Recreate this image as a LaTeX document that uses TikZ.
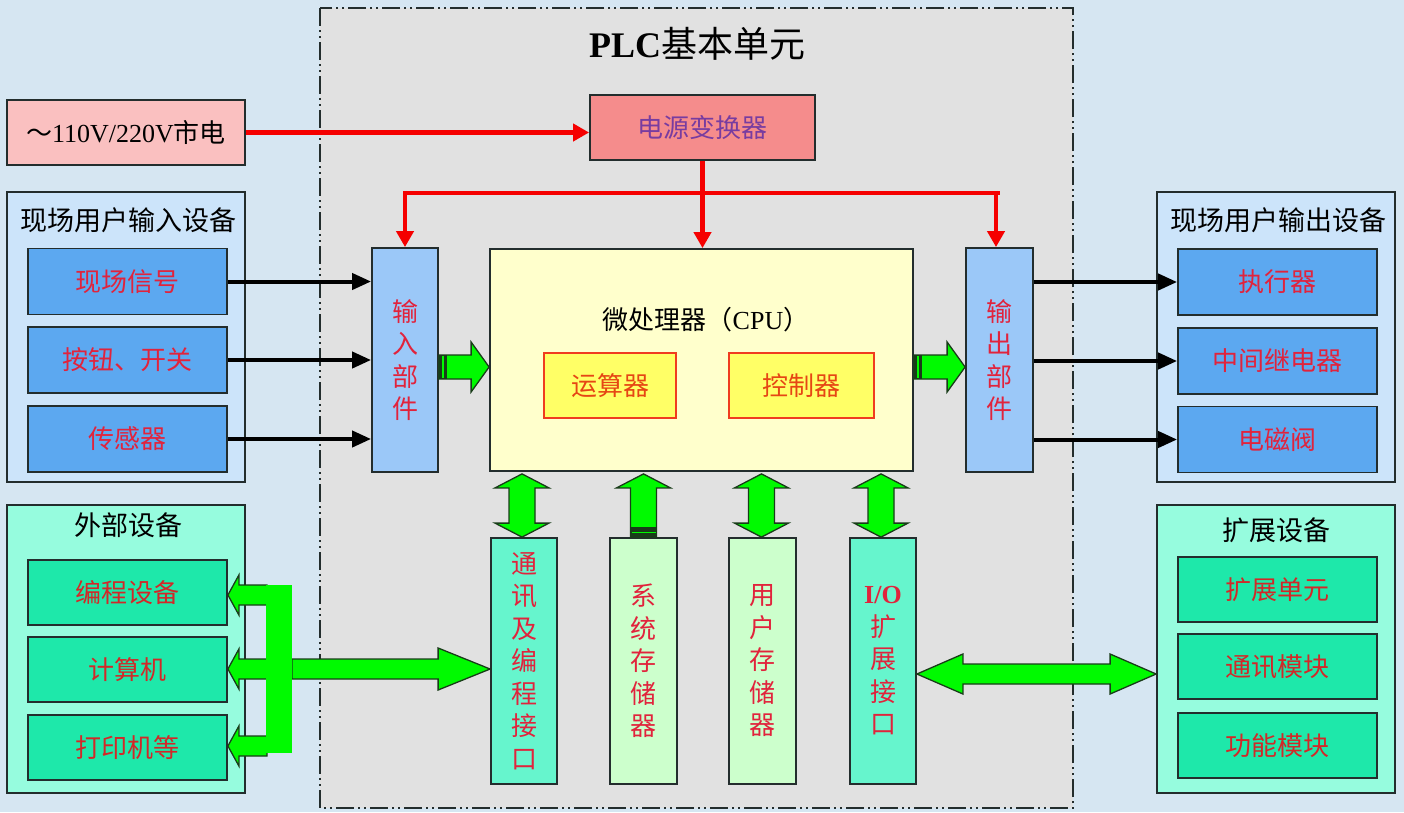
\documentclass[tikz,border=0pt]{standalone}
\usepackage{fontspec}
\setmainfont{Noto Sans CJK SC}
\newfontfamily\tnr{Liberation Serif}
\usetikzlibrary{calc,arrows.meta}

\definecolor{bgc}{RGB}{214,230,242}
\definecolor{plcc}{RGB}{225,225,225}
\definecolor{edge}{RGB}{35,45,45}
\definecolor{mainsc}{RGB}{250,192,192}
\definecolor{convc}{RGB}{245,140,140}
\definecolor{convt}{RGB}{120,60,160}
\definecolor{grpblue}{RGB}{204,228,250}
\definecolor{boxblue}{RGB}{92,168,240}
\definecolor{partblue}{RGB}{155,200,248}
\definecolor{txtred}{RGB}{225,35,60}
\definecolor{cpuc}{RGB}{255,255,204}
\definecolor{unitc}{RGB}{255,255,102}
\definecolor{unitedge}{RGB}{240,60,30}
\definecolor{unitt}{RGB}{230,70,20}
\definecolor{aqua}{RGB}{102,245,205}
\definecolor{ltgreen}{RGB}{204,255,204}
\definecolor{grpaqua}{RGB}{150,252,222}
\definecolor{boxaqua}{RGB}{30,232,170}
\definecolor{txtdred}{RGB}{210,40,40}
\definecolor{garr}{RGB}{0,250,0}
\definecolor{gedge}{RGB}{25,60,25}
\definecolor{pwr}{RGB}{245,0,0}

\newcommand\fsz{\fontsize{26}{32.5}\selectfont}

% block arrows
\newcommand\arrR[5]{\filldraw[garrow] ($(#1)+(0,-#3)$) -- ($(#2)+(-#5,-#3)$) -- ($(#2)+(-#5,-#4)$) -- (#2) -- ($(#2)+(-#5,#4)$) -- ($(#2)+(-#5,#3)$) -- ($(#1)+(0,#3)$) -- cycle;}
\newcommand\arrL[5]{\filldraw[garrow] ($(#1)+(0,-#3)$) -- ($(#2)+(#5,-#3)$) -- ($(#2)+(#5,-#4)$) -- (#2) -- ($(#2)+(#5,#4)$) -- ($(#2)+(#5,#3)$) -- ($(#1)+(0,#3)$) -- cycle;}
\newcommand\arrLR[5]{\filldraw[garrow] (#1) -- ($(#1)+(#5,-#4)$) -- ($(#1)+(#5,-#3)$) -- ($(#2)+(-#5,-#3)$) -- ($(#2)+(-#5,-#4)$) -- (#2) -- ($(#2)+(-#5,#4)$) -- ($(#2)+(-#5,#3)$) -- ($(#1)+(#5,#3)$) -- ($(#1)+(#5,#4)$) -- cycle;}
\newcommand\arrUD[5]{\filldraw[garrow] (#1) -- ($(#1)+(#4,#5)$) -- ($(#1)+(#3,#5)$) -- ($(#2)+(#3,-#5)$) -- ($(#2)+(#4,-#5)$) -- (#2) -- ($(#2)+(-#4,-#5)$) -- ($(#2)+(-#3,-#5)$) -- ($(#1)+(-#3,#5)$) -- ($(#1)+(-#4,#5)$) -- cycle;}
\newcommand\arrU[5]{\filldraw[garrow] (#1) -- ($(#1)+(#4,#5)$) -- ($(#1)+(#3,#5)$) -- ($(#2)+(#3,0)$) -- ($(#2)+(-#3,0)$) -- ($(#1)+(-#3,#5)$) -- ($(#1)+(-#4,#5)$) -- cycle;}

\begin{document}
\begin{tikzpicture}[x=1pt,y=-1pt,
  box/.style={draw=edge,line width=1.8pt,minimum width=199pt,minimum height=66pt,inner sep=0pt,font=\fsz},
  grp/.style={draw=edge,line width=1.8pt,minimum width=238pt,inner sep=0pt},
  ttl/.style={font=\fontsize{27}{32}\selectfont,text=black},
  vbox/.style={draw=edge,line width=1.8pt,minimum width=66pt,inner sep=0pt,font=\fsz,align=center,text=txtred},
  unit/.style={draw=unitedge,line width=1.8pt,fill=unitc,minimum height=65pt,inner sep=0pt,font=\fsz,text=unitt},
  redline/.style={pwr,line width=4.5pt},
  redarrow/.style={pwr,line width=4.5pt,-{Triangle[length=16pt,width=17pt]}},
  blkarrow/.style={black,line width=4pt,-{Triangle[length=19pt,width=16pt]}},
  garrow/.style={fill=garr,draw=gedge,line width=1.3pt,line join=miter},
  stripe/.style={fill=gedge}
]
\useasboundingbox (0,0) rectangle (1404,812);
\fill[bgc] (0,0) rectangle (1404,812);

% PLC basic unit frame
\draw[fill=plcc,draw=edge,line width=1.6pt,dash pattern=on 18pt off 4pt on 2pt off 4pt on 2pt off 4pt] (320,8) rectangle (1073,808);
\node[font=\fontsize{36}{42}\selectfont] (title) at (697,44) {{\tnr\bfseries PLC}基本单元};

% mains and converter
\node[box,fill=mainsc,minimum width=238pt,minimum height=65pt,text=black] (mains) at (126,132.5) {～{\tnr 110V/220V}市电};
\node[box,fill=convc,minimum width=225pt,minimum height=65pt,text=convt] (conv) at (702.5,127.5) {电源变换器};

% input group
\node[grp,fill=grpblue,minimum height=290pt] (ingrp) at (126,337) {};
\node[ttl] (intitle) at (128,220) {现场用户输入设备};
\node[box,fill=boxblue,text=txtred] (in1) at (127.5,281.5) {现场信号};
\node[box,fill=boxblue,text=txtred] (in2) at (127.5,360) {按钮、开关};
\node[box,fill=boxblue,text=txtred] (in3) at (127.5,439) {传感器};

% output group
\node[grp,fill=grpblue,minimum height=290pt] (outgrp) at (1276,337) {};
\node[ttl] (outtitle) at (1278,220) {现场用户输出设备};
\node[box,fill=boxblue,text=txtred] (out1) at (1277.5,282) {执行器};
\node[box,fill=boxblue,text=txtred] (out2) at (1277.5,361) {中间继电器};
\node[box,fill=boxblue,text=txtred] (out3) at (1277.5,439.5) {电磁阀};

% external group
\node[grp,fill=grpaqua,minimum height=288pt] (extgrp) at (126,649) {};
\node[ttl] (exttitle) at (128,525) {外部设备};
\node[box,fill=boxaqua,text=txtdred,minimum height=65pt] (ex1) at (127.5,592.5) {编程设备};
\node[box,fill=boxaqua,text=txtdred,minimum height=65pt] (ex2) at (127.5,669.5) {计算机};
\node[box,fill=boxaqua,text=txtdred,minimum height=65pt] (ex3) at (127.5,747.5) {打印机等};

% expansion group
\node[grp,fill=grpaqua,minimum height=288pt] (expgrp) at (1276,649) {};
\node[ttl] (exptitle) at (1276,530) {扩展设备};
\node[box,fill=boxaqua,text=txtdred,minimum height=65pt] (xp1) at (1277.5,589.5) {扩展单元};
\node[box,fill=boxaqua,text=txtdred,minimum height=65pt] (xp2) at (1277.5,666.5) {通讯模块};
\node[box,fill=boxaqua,text=txtdred,minimum height=65pt] (xp3) at (1277.5,745.5) {功能模块};

% input / output parts
\node[vbox,fill=partblue,minimum height=224pt] (inpart) at (405,360) {输\\入\\部\\件};
\node[vbox,fill=partblue,minimum height=224pt,minimum width=67pt] (outpart) at (999.5,360) {输\\出\\部\\件};

% CPU
\node[draw=edge,line width=1.8pt,fill=cpuc,minimum width=423pt,minimum height=222pt] (cpu) at (701.5,360) {};
\node[font=\fsz] (cputitle) at (706,320) {微处理器（{\tnr CPU}）};
\node[unit,minimum width=132pt] (alu) at (610,385.5) {运算器};
\node[unit,minimum width=145pt] (ctl) at (801.5,385.5) {控制器};

% bottom columns
\node[vbox,fill=aqua,minimum height=246pt] (col1) at (524,661) {通\\讯\\及\\编\\程\\接\\口};
\node[vbox,fill=ltgreen,minimum height=246pt,minimum width=67pt] (col2) at (643.5,661) {系\\统\\存\\储\\器};
\node[vbox,fill=ltgreen,minimum height=246pt,minimum width=67pt] (col3) at (762.5,661) {用\\户\\存\\储\\器};
\node[vbox,fill=aqua,minimum height=246pt] (col4) at (883,661) {{\tnr\bfseries I/O}\\扩\\展\\接\\口};

% power connectors
\draw[redarrow] (mains.east) -- (mains.east -| conv.west);
\draw[redarrow] (conv.south) -- (conv.south |- cpu.north);
\coordinate (pbus) at (conv.south |- 0,193);
\draw[redline] (inpart.north |- pbus) -- (outpart.north |- pbus);
\draw[redarrow] ($(inpart.north |- pbus)+(0,-2.25)$) -- (inpart.north);
\draw[redarrow] ($(outpart.north |- pbus)+(-3.5,-2.25)$) -- ($(outpart.north)+(-3.5,0)$);

% signal connectors
\draw[blkarrow] (in1.east) -- (in1.east -| inpart.west);
\draw[blkarrow] (in2.east) -- (in2.east -| inpart.west);
\draw[blkarrow] (in3.east) -- (in3.east -| inpart.west);
\draw[blkarrow] (outpart.east |- out1.west) -- (out1.west);
\draw[blkarrow] (outpart.east |- out2.west) -- (out2.west);
\draw[blkarrow] (outpart.east |- out3.west) -- (out3.west);

% green data arrows: parts <-> CPU
\coordinate (ya) at (0,367);
\coordinate (ia) at (inpart.east |- ya);
\coordinate (ib) at (cpu.west |- ya);
\arrR{ia}{ib}{12}{25}{18}
\fill[stripe] ($(ia)+(0,-12)$) rectangle ($(ia)+(8,12)$);
\draw[garr,line width=1.2pt] ($(ia)+(4,-11)$) -- ($(ia)+(4,11)$);
\coordinate (oa) at (cpu.east |- ya);
\coordinate (ob) at (outpart.west |- ya);
\arrR{oa}{ob}{12}{25}{18}
\fill[stripe] ($(oa)+(0,-12)$) rectangle ($(oa)+(8,12)$);
\draw[garr,line width=1.2pt] ($(oa)+(4,-11)$) -- ($(oa)+(4,11)$);

% CPU <-> columns
\coordinate (c1t) at ($(cpu.south -| col1.north)+(-2,2)$);
\coordinate (c1b) at ($(col1.north)+(-2,0)$);
\arrUD{c1t}{c1b}{13}{27}{14}
\coordinate (c2t) at ($(cpu.south -| col2.north)+(0,2)$);
\coordinate (c2b) at (col2.north);
\arrU{c2t}{c2b}{13}{27}{14}
\fill[stripe] ($(c2b)+(-13,-10)$) rectangle ($(c2b)+(13,0)$);
\draw[garr,line width=1.2pt] ($(c2b)+(-12,-5)$) -- ($(c2b)+(12,-5)$);
\coordinate (c3t) at ($(cpu.south -| col3.north)+(-1,2)$);
\coordinate (c3b) at ($(col3.north)+(-1,0)$);
\arrUD{c3t}{c3b}{13}{27}{14}
\coordinate (c4t) at ($(cpu.south -| col4.north)+(-2,2)$);
\coordinate (c4b) at ($(col4.north)+(-2,0)$);
\arrUD{c4t}{c4b}{13}{27}{14}

% external devices bus
\coordinate (busR) at (292,669);
\coordinate (busT) at (col1.west |- busR);
\arrR{busR}{busT}{10}{21}{52}
\coordinate (b1) at (267,595);
\arrL{b1}{ex1.east |- b1}{10}{20}{11}
\coordinate (b2) at (267,669);
\arrL{b2}{ex2.east |- b2}{10}{20}{11}
\coordinate (b3) at (267,746);
\arrL{b3}{ex3.east |- b3}{10}{20}{11}
\fill[garr] (266,585) rectangle (292,753);

% I/O expansion <-> expansion devices
\coordinate (xa) at (col4.east |- 0,674);
\coordinate (xb) at (expgrp.west |- 0,674);
\arrLR{xa}{xb}{10}{20}{46}
\end{tikzpicture}
\end{document}
